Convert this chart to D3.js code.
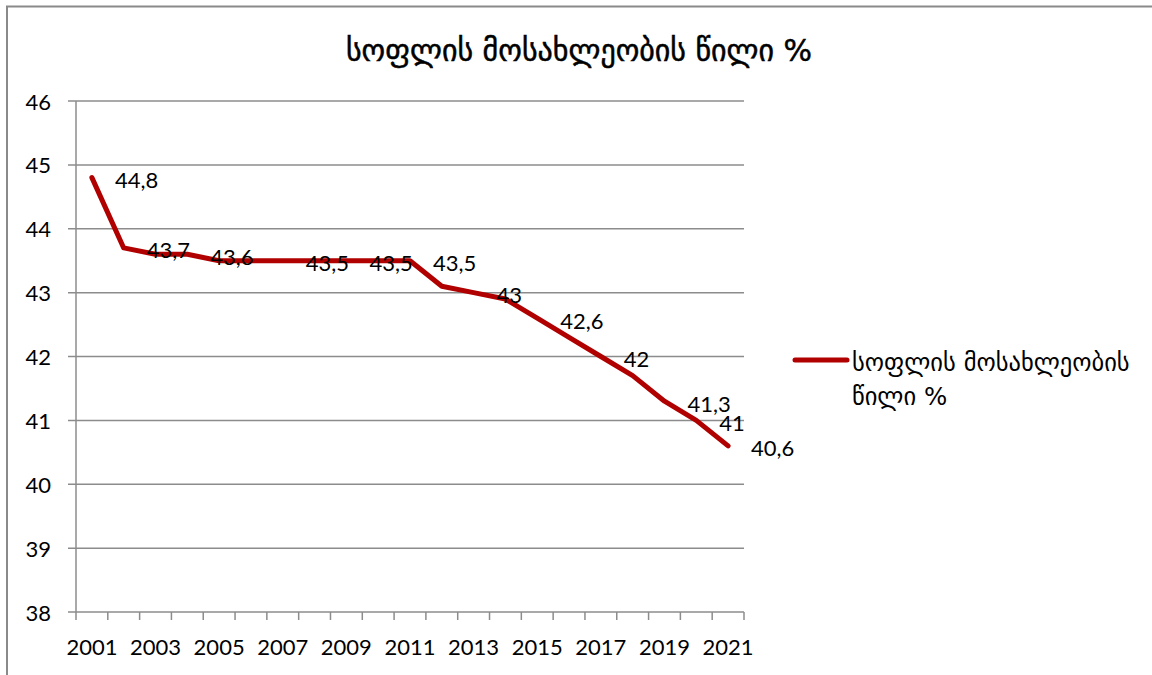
<!DOCTYPE html>
<html lang="ka">
<head>
  <meta charset="UTF-8">
  <title>სოფლის მოსახლეობის წილი %</title>
  <script src="https://d3js.org/d3.v7.min.js"></script>
  <style>
    body {
      margin: 0;
      padding: 0;
      background: #fff;
    }
    svg text {
      fill: #000;
    }
  </style>
</head>
<body>
  <div id="vis"></div>

  <script>
    const years = d3.range(2001, 2022).map(String);
    const values = [44.8, 43.7, 43.6, 43.6, 43.5, 43.5, 43.5, 43.5, 43.5, 43.5, 43.5,
                    43.1, 43.0, 42.9, 42.6, 42.3, 42.0, 41.7, 41.3, 41.0, 40.6];
    // years that carry a data label in the original
    const labelledYears = ["2001", "2002", "2004", "2007", "2009", "2011", "2013",
                           "2015", "2017", "2019", "2020", "2021"];
    const yTicks = [38, 39, 40, 41, 42, 43, 44, 45, 46];
    const xTickLabels = years.filter((d, i) => i % 2 === 0);
    const seriesName = "სოფლის მოსახლეობის წილი %";
    const legendLines = ["სოფლის მოსახლეობის", "წილი %"];

    const width = 1152, height = 675;
    const plot = { left: 76, right: 744, top: 101, bottom: 612 };
    const red = "#b00000";
    const grid = "#8c8c8c";
    const numFont = "Lato, 'Open Sans', sans-serif";
    const geoFont = "'DejaVu Sans', sans-serif";

    const svg = d3.select("#vis").append("svg")
      .attr("width", width)
      .attr("height", height);

    // chart frame (cut off on the right and bottom like the original)
    svg.append("path")
      .attr("d", `M7,${height + 5}V6.5H${width + 5}`)
      .attr("fill", "none")
      .attr("stroke", "#8a8a8a")
      .attr("stroke-width", 2);

    svg.append("text")
      .attr("x", 579)
      .attr("y", 50)
      .attr("text-anchor", "middle")
      .attr("dominant-baseline", "central")
      .style("font-family", geoFont)
      .style("font-size", "30px")
      .style("stroke", "#000")
      .style("stroke-width", 0.5)
      .text(seriesName);

    const x = d3.scaleBand().domain(years).range([plot.left, plot.right]).padding(0);
    const y = d3.scaleLinear().domain([38, 46]).range([plot.bottom, plot.top]);
    const cx = d => x(d) + x.bandwidth() / 2;

    // horizontal gridlines + y ticks
    svg.append("g")
      .selectAll("line")
      .data(yTicks)
      .join("line")
      .attr("x1", plot.left - 8)
      .attr("x2", plot.right)
      .attr("y1", d => y(d))
      .attr("y2", d => y(d))
      .attr("stroke", grid)
      .attr("stroke-width", 1.5);

    svg.append("g")
      .selectAll("text")
      .data(yTicks)
      .join("text")
      .attr("x", 51)
      .attr("y", d => y(d))
      .attr("text-anchor", "end")
      .attr("dominant-baseline", "central")
      .style("font-family", numFont)
      .style("font-size", "22px")
      .text(d => d);

    // y axis line
    svg.append("line")
      .attr("x1", plot.left).attr("x2", plot.left)
      .attr("y1", plot.top).attr("y2", plot.bottom)
      .attr("stroke", grid)
      .attr("stroke-width", 1.5);

    // x tick marks at band boundaries
    const bounds = years.map(d => x(d)).concat([plot.right]);
    svg.append("g")
      .selectAll("line")
      .data(bounds)
      .join("line")
      .attr("x1", d => d).attr("x2", d => d)
      .attr("y1", plot.bottom).attr("y2", plot.bottom + 8)
      .attr("stroke", grid)
      .attr("stroke-width", 1.5);

    svg.append("g")
      .selectAll("text")
      .data(xTickLabels)
      .join("text")
      .attr("x", cx)
      .attr("y", 646)
      .attr("text-anchor", "middle")
      .attr("dominant-baseline", "central")
      .style("font-family", numFont)
      .style("font-size", "22px")
      .text(d => d);

    // series line
    const pts = years.map((d, i) => ({ year: d, value: values[i] }));
    const line = d3.line().x(d => cx(d.year)).y(d => y(d.value));

    svg.append("path")
      .datum(pts)
      .attr("d", line)
      .attr("fill", "none")
      .attr("stroke", red)
      .attr("stroke-width", 5)
      .attr("stroke-linejoin", "round")
      .attr("stroke-linecap", "round");

    // data labels, placed to the right of the point
    svg.append("g")
      .selectAll("text")
      .data(pts.filter(d => labelledYears.includes(d.year)))
      .join("text")
      .attr("x", d => cx(d.year) + 23)
      .attr("y", d => y(d.value) + 2)
      .attr("dominant-baseline", "central")
      .style("font-family", numFont)
      .style("font-size", "22px")
      .text(d => String(d.value).replace(".", ",").replace(/,0$/, ""));

    // legend
    svg.append("line")
      .attr("x1", 795).attr("x2", 847)
      .attr("y1", 360).attr("y2", 360)
      .attr("stroke", red)
      .attr("stroke-width", 5)
      .attr("stroke-linecap", "round");

    svg.append("g")
      .selectAll("text")
      .data(legendLines)
      .join("text")
      .attr("x", 852)
      .attr("y", (d, i) => 362 + i * 34)
      .attr("dominant-baseline", "central")
      .style("font-family", geoFont)
      .style("font-size", "24.5px")
      .text(d => d);
  </script>
</body>
</html>
